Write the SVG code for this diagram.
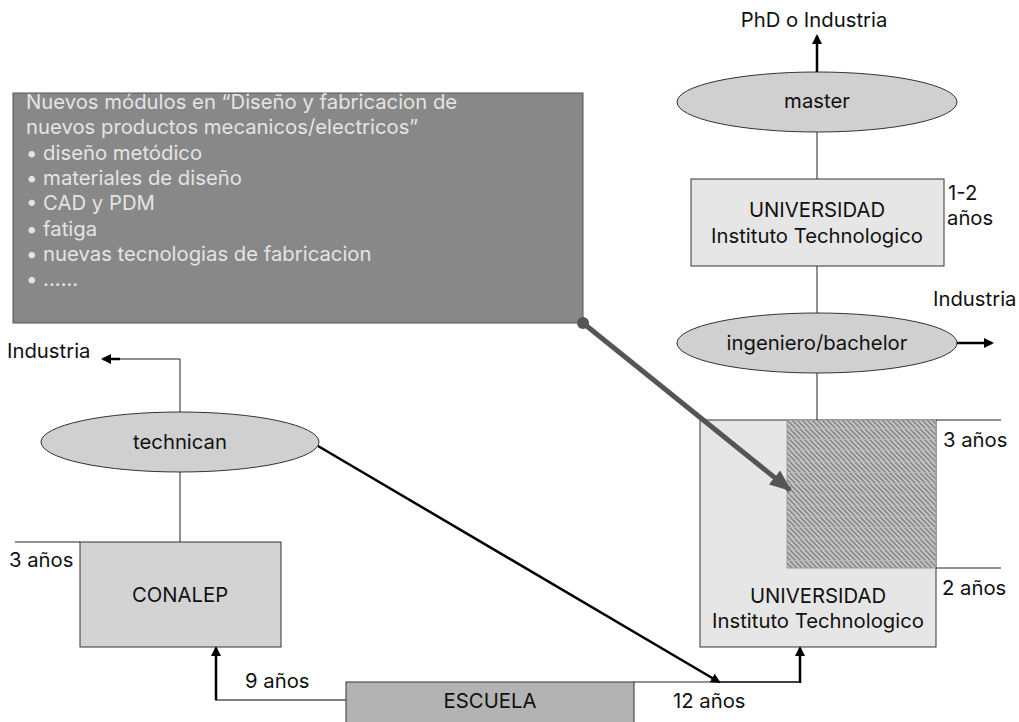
<svg xmlns="http://www.w3.org/2000/svg" width="1019" height="722" viewBox="0 0 1019 722">
<style>
text{font-family:Inter,"Open Sans","Liberation Sans",sans-serif;font-size:20.3px;fill:#111}
.c{text-anchor:middle}
.g{fill:#e4e4e4}
.ell{fill:#d0d0d0;stroke:#333;stroke-width:1}
.thin{stroke:#222;stroke-width:1;fill:none}
.arr{stroke:#000;stroke-width:2.5;fill:none;marker-end:url(#ah)}
</style>
<defs>
<marker id="ah" markerWidth="10" markerHeight="10" refX="8" refY="5" orient="auto" markerUnits="userSpaceOnUse"><path d="M0,0 L10,5 L0,10 Z" fill="#000"/></marker>
<marker id="ahg" markerWidth="22" markerHeight="18" refX="20" refY="9" orient="auto" markerUnits="userSpaceOnUse"><path d="M0,0 L22,9 L0,18 Z" fill="#555"/></marker>
<pattern id="hatch" width="5" height="11" patternUnits="userSpaceOnUse">
<rect width="5" height="11" fill="#c8c8c8"/>
<path d="M-2,-2 L15,15 M-7,-2 L10,15 M3,-2 L20,15 M-12,-2 L5,15" stroke="#8a8a8a" stroke-width="1.6"/>
<line x1="0" y1="10.5" x2="5" y2="10.5" stroke="#b8b8b8" stroke-width="1"/>
</pattern>
</defs>

<g id="modulos">
<rect x="13" y="93" width="570" height="230" fill="#888" stroke="#555" stroke-width="1"/>
<text class="g" x="26" y="109">Nuevos módulos en “Diseño y fabricacion de</text>
<text class="g" x="26" y="134.3">nuevos productos mecanicos/electricos”</text>
<text class="g" x="26" y="159.6">• diseño metódico</text>
<text class="g" x="26" y="184.9">• materiales de diseño</text>
<text class="g" x="26" y="210.2">• CAD y PDM</text>
<text class="g" x="26" y="235.5">• fatiga</text>
<text class="g" x="26" y="260.8">• nuevas tecnologias de fabricacion</text>
<text class="g" x="26" y="286.1">• ......</text>
</g>

<g id="universidad2">
<rect x="700" y="420" width="236" height="227" fill="#e6e6e6" stroke="#333" stroke-width="1"/>
<rect x="787" y="420" width="149" height="148" fill="url(#hatch)" stroke="#999" stroke-width="1"/>
<text class="c" x="818" y="603">UNIVERSIDAD</text>
<text class="c" x="818" y="628">Instituto Technologico</text>
<text x="943" y="447">3 años</text>
<text x="942" y="595">2 años</text>
</g>

<g id="master">
<ellipse class="ell" cx="817" cy="102" rx="140" ry="30"/>
<text class="c" x="817" y="108">master</text>
</g>
<g id="universidad1">
<rect x="691" y="179" width="253" height="87" fill="#e6e6e6" stroke="#333" stroke-width="1"/>
<text class="c" x="817" y="217">UNIVERSIDAD</text>
<text class="c" x="817" y="243">Instituto Technologico</text>
<text x="948" y="200">1-2</text>
<text x="947" y="225">años</text>
</g>
<g id="ingeniero">
<ellipse class="ell" cx="817" cy="343" rx="140" ry="30"/>
<text class="c" x="817" y="350">ingeniero/bachelor</text>
</g>
<g id="technican">
<ellipse class="ell" cx="180" cy="442" rx="139" ry="30"/>
<text class="c" x="180" y="449">technican</text>
</g>
<g id="conalep">
<rect x="80" y="542" width="201" height="105" fill="#d3d3d3" stroke="#333" stroke-width="1"/>
<text class="c" x="180" y="602">CONALEP</text>
<text x="9" y="567">3 años</text>
</g>
<g id="escuela">
<rect x="346" y="682" width="288" height="45" fill="#b3b3b3" stroke="#333" stroke-width="1"/>
<text class="c" x="490" y="708">ESCUELA</text>
</g>

<g id="labels">
<text class="c" x="814" y="27">PhD o Industria</text>
<text x="933" y="306">Industria</text>
<text x="7" y="358">Industria</text>
<text x="245" y="688">9 años</text>
<text x="673" y="708">12 años</text>
</g>

<g id="connectors">
<line class="arr" x1="817" y1="72" x2="817" y2="36"/>
<line class="thin" x1="817" y1="132" x2="817" y2="179"/>
<line class="thin" x1="817" y1="266" x2="817" y2="313"/>
<line class="arr" x1="957" y1="343" x2="992" y2="343"/>
<line class="thin" x1="817" y1="373" x2="817" y2="420"/>
<line class="thin" x1="936" y1="420" x2="1001" y2="420"/>
<line class="thin" x1="936" y1="568" x2="1001" y2="568"/>
<polyline class="thin" points="180,412 180,359 112,359"/>
<line class="arr" x1="120" y1="359" x2="103" y2="359"/>
<line class="thin" x1="180" y1="472" x2="180" y2="542"/>
<line class="thin" x1="15" y1="542" x2="80" y2="542"/>
<polyline points="346,700 216,700 216,656" fill="none" stroke="#555" stroke-width="1.5"/>
<line class="arr" x1="216" y1="700" x2="216" y2="648"/>
<line class="thin" x1="634" y1="682" x2="717" y2="682"/>
<polyline points="717,682 800,682 800,660" fill="none" stroke="#000" stroke-width="1.5"/>
<line class="arr" x1="800" y1="683" x2="800" y2="648"/>
<line class="arr" x1="318" y1="446" x2="719" y2="682"/>
<circle cx="583" cy="323" r="6" fill="#555"/>
<line x1="583" y1="323" x2="790" y2="490" stroke="#555" stroke-width="5" marker-end="url(#ahg)"/>
</g>
</svg>
